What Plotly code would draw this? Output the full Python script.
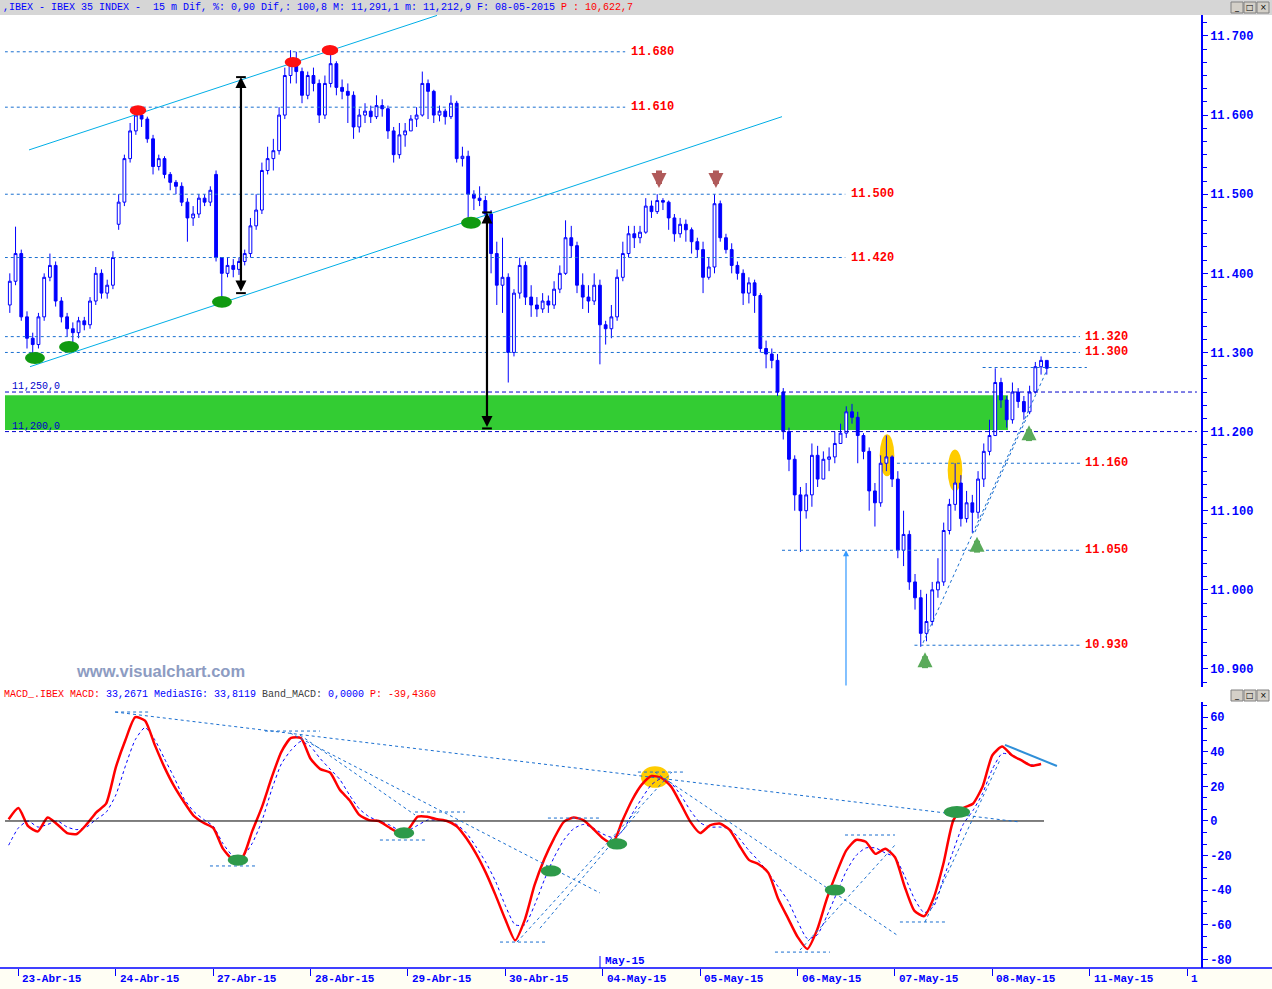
import plotly.graph_objects as go

W, H = 1272, 989

# ---------------- data ----------------
day_labels = ["23-Abr-15", "24-Abr-15", "27-Abr-15", "28-Abr-15", "29-Abr-15",
              "30-Abr-15", "04-May-15", "05-May-15", "06-May-15", "07-May-15",
              "08-May-15", "11-May-15", "1"]
BARS_PER_DAY = 17  # 30-minute bars per session

first_open = 11360
session_open = {1: 11462, 2: 11525}

close_22abr = [11390, 11425]
high_22abr = [11400, 11459]
low_22abr = [11350, 11385]

close_23abr = [11345, 11318, 11310, 11345, 11395, 11410, 11365, 11345, 11330, 11325, 11340, 11335, 11365, 11400, 11375, 11385, 11420]
high_23abr = [11430, 11352, 11325, 11350, 11400, 11425, 11415, 11370, 11350, 11338, 11345, 11345, 11370, 11408, 11405, 11392, 11428]
low_23abr = [11340, 11305, 11293, 11305, 11340, 11390, 11358, 11338, 11320, 11307, 11318, 11328, 11330, 11360, 11368, 11368, 11380]

close_24abr = [11490, 11545, 11580, 11600, 11595, 11570, 11535, 11545, 11525, 11515, 11510, 11490, 11470, 11475, 11495, 11490, 11505]
high_24abr = [11500, 11550, 11590, 11610, 11608, 11598, 11575, 11550, 11548, 11528, 11518, 11515, 11495, 11485, 11500, 11500, 11510]
low_24abr = [11455, 11485, 11540, 11575, 11585, 11565, 11525, 11530, 11520, 11505, 11500, 11485, 11440, 11460, 11470, 11485, 11485]

close_27abr = [11420, 11400, 11410, 11405, 11415, 11425, 11460, 11480, 11530, 11545, 11555, 11600, 11650, 11670, 11655, 11625, 11650]
high_27abr = [11530, 11420, 11420, 11418, 11420, 11430, 11470, 11500, 11540, 11560, 11570, 11610, 11660, 11682, 11680, 11660, 11655]
low_27abr = [11415, 11364, 11395, 11395, 11398, 11410, 11420, 11455, 11475, 11525, 11530, 11550, 11595, 11640, 11640, 11615, 11620]

close_28abr = [11640, 11600, 11640, 11665, 11635, 11630, 11625, 11585, 11600, 11605, 11598, 11612, 11608, 11580, 11550, 11575, 11580]
high_28abr = [11660, 11645, 11650, 11680, 11668, 11645, 11640, 11630, 11608, 11615, 11612, 11625, 11620, 11612, 11585, 11590, 11590]
low_28abr = [11630, 11590, 11595, 11635, 11625, 11620, 11590, 11570, 11578, 11590, 11590, 11595, 11598, 11570, 11540, 11545, 11560]

close_29abr = [11595, 11600, 11640, 11630, 11600, 11605, 11598, 11615, 11545, 11548, 11500, 11495, 11492, 11475, 11425, 11385, 11395]
high_29abr = [11600, 11610, 11655, 11645, 11632, 11612, 11608, 11625, 11618, 11560, 11555, 11505, 11510, 11498, 11480, 11440, 11445]
low_29abr = [11580, 11585, 11598, 11595, 11590, 11592, 11588, 11595, 11540, 11535, 11464, 11480, 11485, 11470, 11400, 11360, 11350]

close_30abr = [11300, 11375, 11410, 11370, 11360, 11355, 11365, 11360, 11380, 11400, 11445, 11435, 11385, 11370, 11365, 11385, 11335]
high_30abr = [11400, 11380, 11420, 11415, 11385, 11370, 11375, 11372, 11390, 11410, 11467, 11460, 11440, 11400, 11385, 11400, 11392]
low_30abr = [11262, 11295, 11368, 11360, 11345, 11345, 11350, 11350, 11355, 11375, 11398, 11420, 11375, 11355, 11350, 11360, 11285]

close_04may = [11330, 11345, 11395, 11425, 11450, 11445, 11452, 11485, 11478, 11492, 11490, 11470, 11450, 11462, 11455, 11440, 11430]
high_04may = [11340, 11360, 11405, 11440, 11460, 11460, 11460, 11495, 11492, 11500, 11495, 11492, 11475, 11470, 11468, 11458, 11445]
low_04may = [11310, 11318, 11340, 11390, 11420, 11432, 11438, 11450, 11470, 11475, 11480, 11455, 11440, 11445, 11440, 11425, 11420]

close_05may = [11395, 11408, 11488, 11445, 11430, 11410, 11400, 11375, 11388, 11372, 11305, 11298, 11290, 11250, 11200, 11165, 11120]
high_05may = [11440, 11420, 11500, 11492, 11450, 11438, 11415, 11405, 11395, 11392, 11375, 11315, 11305, 11298, 11255, 11205, 11170]
low_05may = [11375, 11392, 11400, 11440, 11425, 11400, 11392, 11360, 11362, 11350, 11300, 11280, 11280, 11245, 11190, 11150, 11100]

close_06may = [11100, 11120, 11170, 11140, 11165, 11168, 11185, 11198, 11225, 11218, 11195, 11175, 11125, 11110, 11160, 11168, 11140]
high_06may = [11130, 11135, 11185, 11182, 11175, 11180, 11200, 11210, 11232, 11235, 11225, 11198, 11180, 11135, 11170, 11195, 11170]
low_06may = [11048, 11090, 11105, 11130, 11140, 11150, 11160, 11185, 11192, 11210, 11160, 11165, 11100, 11080, 11105, 11150, 11130]

close_07may = [11050, 11070, 11010, 10990, 10945, 10960, 11000, 11010, 11075, 11108, 11135, 11090, 11110, 11098, 11140, 11175, 11195]
high_07may = [11150, 11100, 11075, 11020, 11000, 10995, 11010, 11040, 11085, 11115, 11160, 11145, 11125, 11120, 11150, 11185, 11215]
low_07may = [11040, 11030, 11000, 10975, 10928, 10935, 10955, 10990, 11005, 11070, 11100, 11080, 11085, 11072, 11090, 11130, 11170]

close_08may = [11262, 11240, 11215, 11250, 11238, 11225, 11250, 11282, 11290, 11280]
high_08may = [11280, 11268, 11245, 11262, 11255, 11245, 11258, 11288, 11295, 11290]
low_08may = [11195, 11230, 11205, 11210, 11230, 11215, 11222, 11248, 11272, 11272]

sessions = [
    (-1, 15, close_22abr, high_22abr, low_22abr),
    (0, 0, close_23abr, high_23abr, low_23abr),
    (1, 0, close_24abr, high_24abr, low_24abr),
    (2, 0, close_27abr, high_27abr, low_27abr),
    (3, 0, close_28abr, high_28abr, low_28abr),
    (4, 0, close_29abr, high_29abr, low_29abr),
    (5, 0, close_30abr, high_30abr, low_30abr),
    (6, 0, close_04may, high_04may, low_04may),
    (7, 0, close_05may, high_05may, low_05may),
    (8, 0, close_06may, high_06may, low_06may),
    (9, 0, close_07may, high_07may, low_07may),
    (10, 0, close_08may, high_08may, low_08may),
]

# MACD (red) and signal (blue dotted), sampled every 0.1 session from -0.1
macd_t0, macd_dt = -0.1, 0.1
macd = [1, 7.5, -3, -6, 2, -2, -7, -7.5, -2, 5, 10,
        31, 47, 60, 58, 44, 31, 20, 11, 3, -1,
        -4, -16, -22, -21, -6, 8, 25, 40, 48, 48,
        36, 30, 28, 18, 12, 3.5, 0.5, 0, -3.5, -6.5,
        -5, 2.5, 2.5, 1, 0, -3, -10, -19, -30, -43,
        -57, -69, -57, -37, -22, -10, -0.5, 2, 0.5, -4.5,
        -10, -13, 0, 12, 21, 26, 25, 20, 10, -0.5,
        -7, -2.5, -1.5, -5, -14, -22.5, -25, -30, -45, -56,
        -67, -74, -63, -45, -30, -17, -11, -12, -19, -16,
        -21, -38, -52, -55, -44, -24, 0.5, 7.5, 10, 20,
        38, 43, 38, 35, 32, 33]
signal = [-14, -4, 0, -3.5, -2, 0, -3.5, -5, -3.5, 1, 5,
          15, 32, 47, 54, 47, 36, 25, 13, 5.5, 1,
          -3, -13, -20, -20.5, -13, 0, 18, 33, 41, 46,
          43, 36, 30, 24, 15, 7, 2.5, 0, -2, -5,
          -5.5, -2.5, 0.5, 0.5, 0, -2, -7, -15, -24, -35,
          -49, -60, -60, -48.6, -34, -21, -11, -4.5, -2, -4,
          -7.5, -9.5, -6, 4, 13, 21, 24.5, 22, 15, 6,
          -1, -3.5, -3.5, -4.5, -10, -17, -23, -30, -38, -46,
          -58, -68, -66, -55, -42, -29, -20, -15.6, -15.6, -18.5,
          -21, -32, -45, -53, -49, -33, -17, -2, 6, 16,
          30, 39, 38, 35, 32.5, 32.4]

price_ticks = [10900, 11000, 11100, 11200, 11300, 11400, 11500, 11600, 11700]
macd_ticks = [-80, -60, -40, -20, 0, 20, 40, 60]

# support / resistance levels: value, start, end (session units), label position
levels = [11680, 11610, 11500, 11420, 11320, 11300, 11160, 11050, 10930, 11281]
level_start = [-0.14, -0.14, -0.14, -0.14, -0.14, -0.14, 9.02, 7.84, 9.2, 9.9]
level_end = [6.23, 6.23, 8.49, 8.49, 10.9, 10.9, 10.9, 10.9, 10.9, 10.97]
level_label_x = [6.27, 6.27, 8.53, 8.53, 10.93, 10.93, 10.93, 10.93, 10.93, None]

zone_low, zone_high = 11202, 11246

# ---------------- build bars ----------------
bx, bo, bh, bl, bc = [], [], [], [], []
prev = first_open
for d, k0, cl, hi, lo in sessions:
    for j, c in enumerate(cl):
        k = k0 + j
        o = session_open.get(d, prev) if j == 0 else prev
        bx.append(d + (k + 0.5) / BARS_PER_DAY)
        bo.append(o)
        bc.append(c)
        bh.append(max(hi[j], o, c))
        bl.append(min(lo[j], o, c))
        prev = c

macd_x = [round(macd_t0 + macd_dt * i, 3) for i in range(len(macd))]

# ---------------- figure ----------------
X0, X1 = -0.1376, 12.142
Y0, Y1 = 10877.2, 11726.5
M0, M1 = -85.0, 68.8

BLUE = "#0000ff"
LVL = "#1a6fd0"
MONO = "Liberation Mono"

fig = go.Figure()
fig.add_trace(go.Candlestick(
    x=bx, open=bo, high=bh, low=bl, close=bc,
    increasing=dict(line=dict(color=BLUE, width=1), fillcolor="white"),
    decreasing=dict(line=dict(color=BLUE, width=1), fillcolor=BLUE),
    whiskerwidth=0, hoverinfo="skip", xaxis="x", yaxis="y", showlegend=False))

fig.add_trace(go.Scatter(x=macd_x, y=signal, mode="lines", xaxis="x2", yaxis="y2",
                         line=dict(color=BLUE, width=1, dash="dot", shape="spline", smoothing=0.6),
                         hoverinfo="skip", showlegend=False))
fig.add_trace(go.Scatter(x=macd_x, y=macd, mode="lines", xaxis="x2", yaxis="y2",
                         line=dict(color="#ff0000", width=2.5, shape="spline", smoothing=0.6),
                         hoverinfo="skip", showlegend=False))

shapes = []
ann = []

def pline(x0, y0, x1, y1, color, width=1, dash="solid", ref=("x", "y"), layer="above"):
    shapes.append(dict(type="line", xref=ref[0], yref=ref[1], x0=x0, y0=y0, x1=x1, y1=y1,
                       line=dict(color=color, width=width, dash=dash), layer=layer))

def ell(xc, yc, w, h, color, ref=("x", "y"), layer="above"):
    shapes.append(dict(type="circle", xref=ref[0], yref=ref[1], x0=xc - w / 2, x1=xc + w / 2,
                       y0=yc - h / 2, y1=yc + h / 2, fillcolor=color, line=dict(width=0), layer=layer))

# green zone
shapes.append(dict(type="rect", xref="x", yref="y", x0=X0, x1=10.16, y0=zone_low, y1=zone_high,
                   fillcolor="#33cc33", line=dict(width=0), layer="below"))
# yellow highlights (below candles)
ell(8.918, 11170, 0.15, 53, "#ffcc00", layer="below")
ell(9.616, 11151, 0.15, 53, "#ffcc00", layer="below")

# levels
for v, s, e, lx in zip(levels, level_start, level_end, level_label_x):
    pline(s, v, e, v, LVL, 1, "3px,3px")
    if lx is not None:
        ann.append(dict(x=lx, y=v, xref="x", yref="y", text=f"{v/1000:.3f}", showarrow=False,
                        xanchor="left", yanchor="middle",
                        font=dict(family=MONO, size=12, color="#ff0000", weight="bold")))
for v in (11250, 11200):
    pline(X0, v, 12.1, v, "#0000cc", 1, "4px,3px")
ann.append(dict(x=-0.086, y=11257, xref="x", yref="y", text="11,250,0", showarrow=False,
                xanchor="left", yanchor="middle", font=dict(family=MONO, size=10, color="#0000cc")))
ann.append(dict(x=-0.086, y=11206, xref="x", yref="y", text="11,200,0", showarrow=False,
                xanchor="left", yanchor="middle", font=dict(family=MONO, size=10, color="#0000cc")))

# channel
pline(0.109, 11556, 4.298, 11726, "#00aee6", 1)
pline(0.119, 11282, 7.84, 11598, "#00aee6", 1)
# trend dotted lines (right)
pline(9.288, 10933, 10.561, 11278, LVL, 1, "dot")
pline(9.821, 11073, 10.365, 11221, LVL, 1, "dot")

# black measuring arrows
for xa, ylo, yhi in ((2.285, 11375, 11648), (4.811, 11204, 11477)):
    ann.append(dict(x=xa, y=yhi, ax=xa, ay=ylo, xref="x", yref="y", axref="x", ayref="y",
                    text="", showarrow=True, arrowhead=2, arrowside="end+start", arrowsize=1,
                    arrowwidth=2.2, arrowcolor="black"))
    pline(xa - 0.05, yhi, xa + 0.05, yhi, "black", 2)
    pline(xa - 0.05, ylo, xa + 0.05, ylo, "black", 2)
# thin blue vertical
ann.append(dict(x=8.497, y=11050, ax=8.497, ay=Y0, xref="x", yref="y", axref="x", ayref="y",
                text="", showarrow=True, arrowhead=2, arrowsize=1, arrowwidth=1.2,
                arrowcolor="#3399ff"))

# red/green markers on price
for xc, yc in ((1.228, 11606), (2.819, 11667), (3.199, 11682)):
    ell(xc, yc, 0.17, 13, "#ff1010")
for xc, yc in ((0.170, 11293), (0.520, 11307), (2.090, 11364), (4.647, 11464)):
    ell(xc, yc, 0.205, 15, "#109a10")

# brown down arrows and green up arrows (stem + head)
for xa in (6.577, 7.162):
    pline(xa, 11530, xa, 11518, "#b05a5a", 6)
    ann.append(dict(x=xa, y=11508, xref="x", yref="y", ax=0, ay=-10, text="", showarrow=True,
                    arrowhead=2, arrowsize=0.5, arrowwidth=6, arrowcolor="#b05a5a"))
for xa, yt in ((9.308, 10921), (9.842, 11067), (10.376, 11208)):
    pline(xa, yt - 20, xa, yt - 9, "#5aaa5a", 6)
    ann.append(dict(x=xa, y=yt, xref="x", yref="y", ax=0, ay=10, text="", showarrow=True,
                    arrowhead=2, arrowsize=0.5, arrowwidth=6, arrowcolor="#5aaa5a"))

# MACD panel decorations
M = ("x2", "y2")
pline(X0, 0, 10.53, 0, "black", 1, ref=M)
macd_lines = [
    (0.993, 63, 10.283, -0.6), (2.789, 50.9, 5.971, -41.6), (2.891, 49.7, 4.072, 3.5),
    (5.119, -70, 6.71, 28.3), (5.355, -62, 6.382, 6.4), (6.536, 28.3, 9.02, -65.9),
    (8.025, -74.6, 9.0, -13.9), (9.308, -58.4, 10.078, 35.3),
    (0.993, 63, 1.351, 63), (2.532, 52, 3.096, 52), (3.712, -11, 4.174, -11),
    (4.072, 5.2, 4.585, 5.2), (1.967, -26, 2.429, -26), (4.945, -70, 5.437, -70),
    (5.437, 1.7, 5.971, 1.7), (6.361, 28.3, 6.844, 28.3), (7.768, -75.8, 8.333, -75.8),
    (8.487, -8.1, 9.0, -8.1), (9.051, -58.4, 9.513, -58.4),
]
for a, b, c, d in macd_lines:
    pline(a, b, c, d, LVL, 1, "dot", ref=M)
pline(10.129, 44, 10.663, 31.8, "#2f8fd8", 2, ref=M)
ell(6.536, 25.4, 0.29, 12.5, "#ffcc00", ref=M, layer="below")
for xc, yc in ((2.254, -22.6), (3.959, -6.9), (5.468, -28.9), (6.146, -13.3), (8.384, -39.9)):
    ell(xc, yc, 0.21, 6.5, "#2e9a4a", ref=M)
ell(9.636, 5.2, 0.27, 7, "#2e9a4a", ref=M)

# paper-level decorations
def py(p):
    return (H - p) / H

def px(p):
    return p / W

shapes.append(dict(type="rect", xref="paper", yref="paper", x0=0, x1=1, y0=py(15), y1=1,
                   fillcolor="#d6d6d6", line=dict(width=0), layer="below"))
shapes.append(dict(type="rect", xref="paper", yref="paper", x0=0, x1=1, y0=0, y1=py(969),
                   fillcolor="#fffef4", line=dict(width=0), layer="below"))
shapes.append(dict(type="line", xref="paper", yref="paper", x0=0, x1=1, y0=py(968), y1=py(968),
                   line=dict(color=BLUE, width=1.5)))
shapes.append(dict(type="line", xref="paper", yref="paper", x0=px(600), x1=px(600),
                   y0=py(968), y1=py(956), line=dict(color=BLUE, width=1)))
# window buttons
for ytop in (2, 690):
    for i, g in enumerate(["_", "□", "×"]):
        x0 = 1231 + i * 13
        shapes.append(dict(type="rect", xref="paper", yref="paper", x0=px(x0), x1=px(x0 + 12),
                           y0=py(ytop + 11), y1=py(ytop), fillcolor="#d4d0c8",
                           line=dict(color="#808080", width=1)))
        ann.append(dict(x=px(x0 + 6), y=py(ytop + 5.5), xref="paper", yref="paper", text=g,
                        showarrow=False, xanchor="center", yanchor="middle",
                        font=dict(family="DejaVu Sans", size=8, color="black")))

header = ("<span style='color:#0000ff'>,IBEX - IBEX 35 INDEX -  15 m Dif, %: 0,90 Dif,: 100,8 "
          "M: 11,291,1 m: 11,212,9 F: 08-05-2015 </span><span style='color:#ff0000'>P : 10,622,7</span>")
ann.append(dict(x=px(1), y=py(7.5), xref="paper", yref="paper", text=header, showarrow=False,
                xanchor="left", yanchor="middle", font=dict(family=MONO, size=10)))
mhead = ("<span style='color:#ff0000'>MACD_.IBEX MACD: </span><span style='color:#0000ff'>33,2671 "
         "MediaSIG: 33,8119 </span><span style='color:#404040'>Band_MACD: </span>"
         "<span style='color:#0000ff'>0,0000 </span><span style='color:#ff0000'>P: -39,4360</span>")
ann.append(dict(x=px(2), y=py(694), xref="paper", yref="paper", text=mhead, showarrow=False,
                xanchor="left", yanchor="middle", font=dict(family=MONO, size=10)))
ann.append(dict(x=px(160), y=py(671), xref="paper", yref="paper", text="www.visualchart.com",
                showarrow=False, xanchor="center", yanchor="middle",
                font=dict(family="Liberation Sans", size=16.5, color="#8d9cc2", weight="bold")))
ann.append(dict(x=px(603), y=py(961), xref="paper", yref="paper", text="May-15", showarrow=False,
                xanchor="left", yanchor="middle",
                font=dict(family=MONO, size=11, color=BLUE, weight="bold")))
for i, lab in enumerate(day_labels):
    ann.append(dict(x=i, y=py(979), xref="x2", yref="paper", text=lab, showarrow=False,
                    xanchor="left", yanchor="middle", xshift=2,
                    font=dict(family=MONO, size=11, color=BLUE, weight="bold")))

tickfont = dict(family=MONO, size=12, color=BLUE, weight="bold")
fig.update_layout(
    width=W, height=H, margin=dict(l=0, r=0, t=0, b=0),
    paper_bgcolor="white", plot_bgcolor="white", showlegend=False,
    shapes=shapes, annotations=ann,
    xaxis=dict(domain=[px(5), px(1201)], range=[X0, X1], anchor="y", showgrid=False,
               zeroline=False, showticklabels=False, ticks="", rangeslider=dict(visible=False),
               fixedrange=True),
    xaxis2=dict(domain=[px(5), px(1201)], range=[X0, X1], anchor="y2", matches="x",
                showgrid=False, zeroline=False, showticklabels=False,
                tickvals=list(range(len(day_labels))), ticks="outside", ticklen=7,
                tickcolor=BLUE, tickwidth=1),
    yaxis=dict(domain=[py(687), py(15)], range=[Y0, Y1], side="right", anchor="x",
               showgrid=False, zeroline=False, showline=True, linecolor=BLUE, linewidth=1.5,
               tickvals=price_ticks, ticktext=[f"{v/1000:.3f}" for v in price_ticks],
               ticks="outside", ticklen=5, tickcolor=BLUE, tickfont=tickfont,
               minor=dict(dtick=100 / 6, tick0=0, ticks="outside", ticklen=4, tickcolor=BLUE)),
    yaxis2=dict(domain=[py(968), py(702)], range=[M0, M1], side="right", anchor="x2",
                showgrid=False, zeroline=False, showline=True, linecolor=BLUE, linewidth=1.5,
                tickvals=macd_ticks, ticktext=[str(v) for v in macd_ticks],
                ticks="outside", ticklen=5, tickcolor=BLUE, tickfont=tickfont,
                minor=dict(dtick=20 / 3, tick0=0, ticks="outside", ticklen=4, tickcolor=BLUE)),
)

fig.write_html("out.html", config={"displayModeBar": False},
               post_script="document.body.style.margin='0px';document.body.style.overflow='hidden';")
